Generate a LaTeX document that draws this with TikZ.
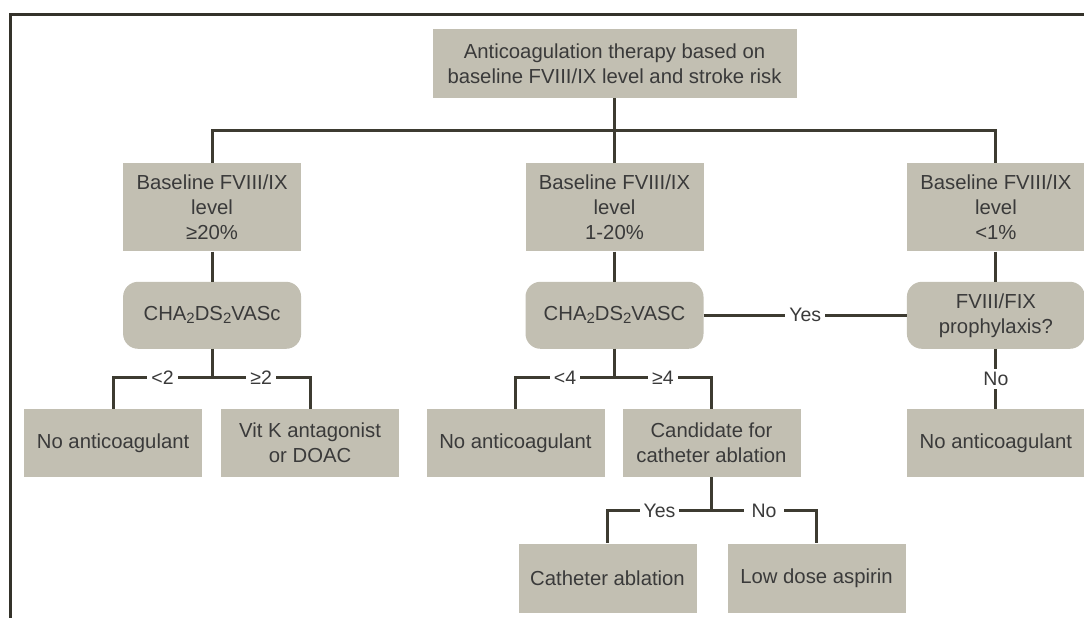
\documentclass[tikz,border=0pt]{standalone}
\usepackage{fontspec}
\setmainfont{Liberation Sans}
\usetikzlibrary{positioning}
\definecolor{boxgray}{HTML}{C2BFB2}
\definecolor{linegray}{HTML}{3D3B31}
\definecolor{textgray}{HTML}{3A3A3A}
\newcommand{\lowtwo}{\raisebox{-0.3ex}{\fontsize{15}{15}\selectfont 2}}

\begin{document}
\begin{tikzpicture}[x=1pt, y=1pt,
    box/.style = {fill=boxgray, text=textgray, align=center, minimum width=178pt, inner sep=2pt, font=\fontsize{20.3}{25}\selectfont},
    main/.style = {box, minimum height=68pt},
    level/.style = {box, minimum height=88pt},
    decide/.style = {box, rounded corners=15pt, minimum height=67pt},
    link/.style = {draw=linegray, line width=3pt},
    lab/.style = {fill=white, text=textgray, inner xsep=4pt, inner ysep=1pt, font=\fontsize{19.5}{22}\selectfont}]

    \useasboundingbox (0,0) rectangle (1084,618);
    \draw[linegray!85!black, line width=3pt] (10,0) -- (10,603.5) -- (1084,603.5);

    \node[box, minimum width=364pt, minimum height=69pt] (top) at (614.5,554.5) {Anticoagulation therapy based on\\baseline FVIII/IX level and stroke risk};

    \node[level] (lvM) [below=65pt of top] {Baseline FVIII/IX\\level\\1-20\%};
    \node[level] (lvL) [left=224pt of lvM] {Baseline FVIII/IX\\level\\≥20\%};
    \node[level] (lvR) [right=203pt of lvM] {Baseline FVIII/IX\\level\\<1\%};

    \node[decide] (dcL) [below=30pt of lvL] {CHA\lowtwo DS\lowtwo VASc};
    \node[decide] (dcM) [below=30pt of lvM] {CHA\lowtwo DS\lowtwo VASC};
    \node[decide] (dcR) [below=30pt of lvR] {FVIII/FIX\\prophylaxis?};

    \node[main] (noL) [below=60pt of dcL, xshift=-99pt] {No anticoagulant};
    \node[main] (vitK) [below=60pt of dcL, xshift=98pt] {Vit K antagonist\\or DOAC};
    \node[main] (noM) [below=60pt of dcM, xshift=-99pt] {No anticoagulant};
    \node[main] (cand) [below=60pt of dcM, xshift=97pt] {Candidate for\\catheter ablation};
    \node[main] (noR) [below=60pt of dcR] {No anticoagulant};

    \node[main, minimum height=69pt] (abl) [below=66pt of cand, xshift=-104pt] {Catheter ablation};
    \node[main, minimum height=69pt] (asp) [below=66pt of cand, xshift=105pt] {Low dose aspirin};

    \draw[link] (top) -- (lvM);
    \draw[link] (top.south) -- ++(0,-32) -| (lvL.north);
    \draw[link] (top.south) -- ++(0,-32) -| (lvR.north);

    \draw[link] (lvL) -- (dcL);
    \draw[link] (lvM) -- (dcM);
    \draw[link] (lvR) -- (dcR);

    \draw[link] (dcL.south) -- ++(0,-29) -| node[lab, pos=0.25] {<2} (noL.north);
    \draw[link] (dcL.south) -- ++(0,-29) -| node[lab, pos=0.25] {≥2} (vitK.north);
    \draw[link] (dcM.south) -- ++(0,-29) -| node[lab, pos=0.25] {<4} (noM.north);
    \draw[link] (dcM.south) -- ++(0,-29) -| node[lab, pos=0.25] {≥4} (cand.north);
    \draw[link] (dcM) -- node[lab] {Yes} (dcR);
    \draw[link] (dcR) -- node[lab, inner ysep=3pt] {No} (noR);

    \draw[link] (cand.south) -- ++(0,-33) -| node[lab, pos=0.25] {Yes} (abl.north);
    \draw[link] (cand.south) -- ++(0,-33) -| node[lab, pos=0.25, inner xsep=8pt] {No} (asp.north);

\end{tikzpicture}
\end{document}
